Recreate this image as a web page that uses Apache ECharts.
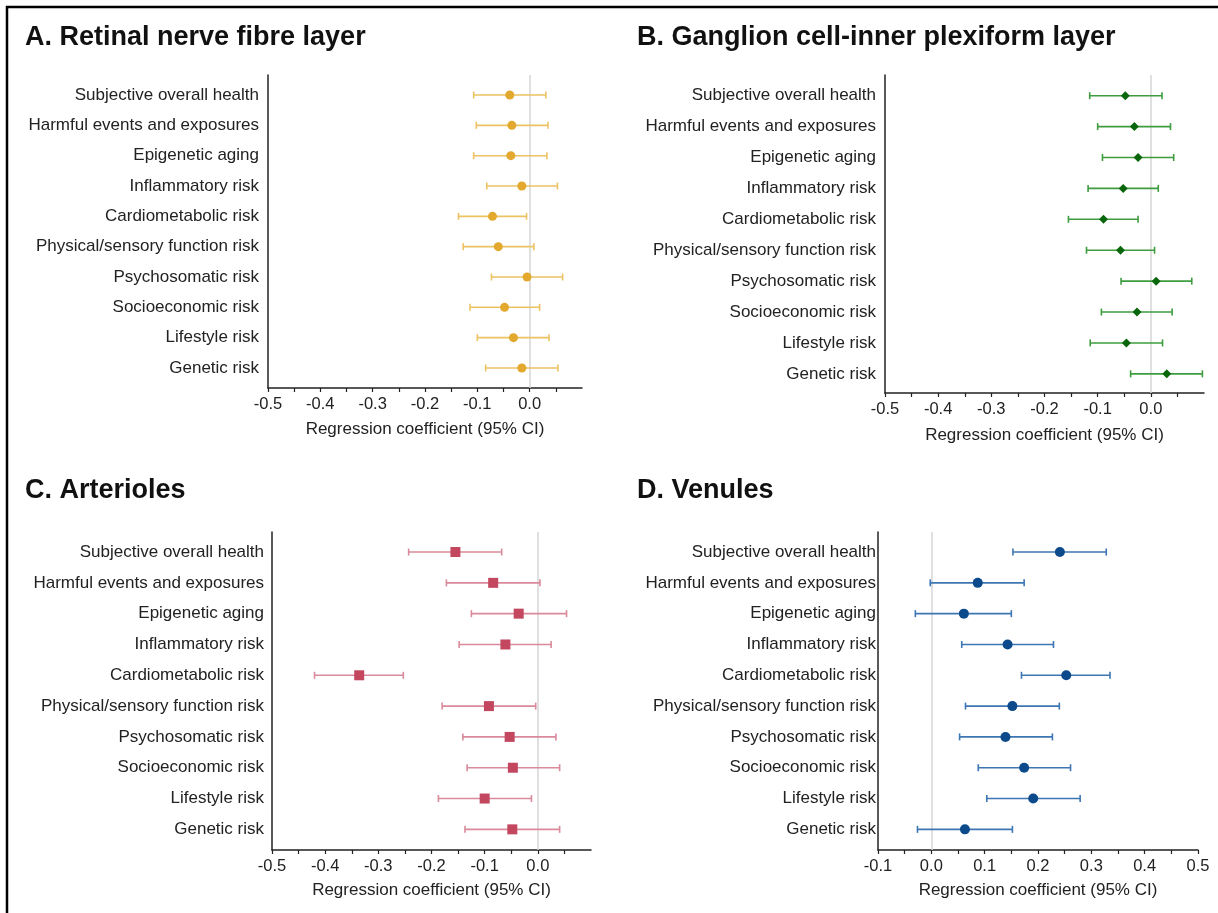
<!DOCTYPE html>
<html>
<head>
<meta charset="utf-8">
<script src="https://cdn.jsdelivr.net/npm/echarts@6/dist/echarts.min.js"></script>
<style>
html,body{margin:0;padding:0;background:#fff;}
#chart{width:1218px;height:913px;}
</style>
</head>
<body>
<div id="chart"></div>
<script>
// ---------- DATA ----------
const categories = ['Subjective overall health','Harmful events and exposures','Epigenetic aging','Inflammatory risk','Cardiometabolic risk','Physical/sensory function risk','Psychosomatic risk','Socioeconomic risk','Lifestyle risk','Genetic risk'];

const panelTitles = ['A. Retinal nerve fibre layer','B. Ganglion cell-inner plexiform layer','C. Arterioles','D. Venules'];
const axisTitle = 'Regression coefficient (95% CI)';

// A. RNFL
const rnflEst = [-0.038,-0.034,-0.036,-0.015,-0.071,-0.060,-0.005,-0.048,-0.031,-0.015];
const rnflLo  = [-0.107,-0.102,-0.107,-0.082,-0.136,-0.127,-0.073,-0.114,-0.100,-0.084];
const rnflHi  = [ 0.031, 0.035, 0.033, 0.053,-0.006, 0.008, 0.063, 0.019, 0.037, 0.054];
// B. GCIPL
const gciplEst = [-0.048,-0.031,-0.024,-0.052,-0.089,-0.057, 0.010,-0.026,-0.046, 0.030];
const gciplLo  = [-0.115,-0.100,-0.091,-0.118,-0.155,-0.121,-0.056,-0.093,-0.114,-0.038];
const gciplHi  = [ 0.021, 0.037, 0.043, 0.014,-0.024, 0.007, 0.077, 0.040, 0.022, 0.097];
// C. Arterioles
const artEst = [-0.155,-0.084,-0.036,-0.061,-0.336,-0.092,-0.053,-0.047,-0.100,-0.048];
const artLo  = [-0.243,-0.172,-0.125,-0.148,-0.420,-0.180,-0.141,-0.133,-0.187,-0.137];
const artHi  = [-0.068, 0.004, 0.054, 0.025,-0.253,-0.004, 0.034, 0.041,-0.012, 0.041];
// D. Venules
const venEst = [0.241,0.087,0.061,0.143,0.253,0.152,0.139,0.174,0.191,0.063];
const venLo  = [0.153,-0.002,-0.030,0.057,0.169,0.064,0.053,0.088,0.104,-0.026];
const venHi  = [0.328,0.174,0.150,0.229,0.335,0.240,0.227,0.261,0.279,0.152];

// tick values
const ticksNeg = [-0.5,-0.45,-0.4,-0.35,-0.3,-0.25,-0.2,-0.15,-0.1,-0.05,0,0.05];
const labelsNeg = [-0.5,-0.4,-0.3,-0.2,-0.1,0];
const ticksPos = [-0.1,-0.05,0,0.05,0.1,0.15,0.2,0.25,0.3,0.35,0.4,0.45,0.5];
const labelsPos = [-0.1,0,0.1,0.2,0.3,0.4,0.5];
const catIdx = [0,1,2,3,4,5,6,7,8,9];

// ---------- LAYOUT / STYLE ----------
const FONT = 'Liberation Sans, Arial, sans-serif';
const panels = [
  {est:rnflEst, lo:rnflLo, hi:rnflHi, grid:{left:268, top:75, width:314, height:313}, xmin:-0.5, xmax:0.1, ticks:ticksNeg, labels:labelsNeg, ymin:-0.66, ymax:9.66, line:'#ECC262', point:'#E3A82E', symbol:'circle', size:9, nameGap:33, yMargin:9},
  {est:gciplEst, lo:gciplLo, hi:gciplHi, grid:{left:885, top:75, width:319, height:318}, xmin:-0.5, xmax:0.1, ticks:ticksNeg, labels:labelsNeg, ymin:-0.67, ymax:9.62, line:'#3E9C3E', point:'#0A660A', symbol:'diamond', size:9, nameGap:34, yMargin:9},
  {est:artEst, lo:artLo, hi:artHi, grid:{left:272, top:532, width:319, height:318}, xmin:-0.5, xmax:0.1, ticks:ticksNeg, labels:labelsNeg, ymin:-0.65, ymax:9.67, line:'#DA8A9B', point:'#C2475F', symbol:'rect', size:10, nameGap:32, yMargin:8},
  {est:venEst, lo:venLo, hi:venHi, grid:{left:878, top:532, width:320, height:318}, xmin:-0.1, xmax:0.5, ticks:ticksPos, labels:labelsPos, ymin:-0.65, ymax:9.67, line:'#3C76B3', point:'#0C4A8B', symbol:'circle', size:10, nameGap:32, yMargin:2}
];
const titlePos = [{left:25, top:24},{left:637, top:24},{left:25, top:477},{left:637, top:477}];

const chart = echarts.init(document.getElementById('chart'), null, {renderer:'canvas'});

const grids = [], xAxes = [], yAxes = [], series = [], titles = [];
panels.forEach((p, i) => {
  grids.push(Object.assign({containLabel:false}, p.grid));
  titles.push({text: panelTitles[i], left: titlePos[i].left, top: titlePos[i].top, padding:0,
    textStyle:{fontFamily:FONT, fontSize:27, fontWeight:'bold', color:'#111'}});
  xAxes.push({
    type:'value', gridIndex:i, min:p.xmin, max:p.xmax,
    name: axisTitle, nameLocation:'middle', nameGap:p.nameGap,
    nameTextStyle:{fontFamily:FONT, fontSize:17, color:'#222'},
    axisLine:{show:true, onZero:false, lineStyle:{color:'#222', width:1.5}},
    axisTick:{show:true, length:4, customValues:p.ticks, lineStyle:{color:'#222', width:1.2}},
    axisLabel:{customValues:p.labels, fontFamily:FONT, fontSize:16.5, color:'#222', margin:8,
      formatter: v => v.toFixed(1)},
    splitLine:{show:false}
  });
  yAxes.push({
    type:'value', gridIndex:i, min:p.ymin, max:p.ymax, inverse:true,
    axisLine:{show:true, onZero:false, lineStyle:{color:'#222', width:1.5}},
    axisTick:{show:false},
    axisLabel:{customValues:catIdx, fontFamily:FONT, fontSize:17, color:'#222', margin:p.yMargin,
      formatter: v => categories[Math.round(v)]},
    splitLine:{show:false}
  });
  const barData = categories.map((c, k) => [p.lo[k], p.hi[k], k]);
  series.push({
    type:'custom', xAxisIndex:i, yAxisIndex:i, data: barData,
    encode:{x:[0,1], y:2},
    renderItem: (params, api) => {
      const a = api.coord([api.value(0), api.value(2)]);
      const b = api.coord([api.value(1), api.value(2)]);
      const h = 3.5;
      const st = {stroke:p.line, lineWidth:1.6};
      return {type:'group', children:[
        {type:'line', shape:{x1:a[0], y1:a[1], x2:b[0], y2:b[1]}, style:st},
        {type:'line', shape:{x1:a[0], y1:a[1]-h, x2:a[0], y2:a[1]+h}, style:st},
        {type:'line', shape:{x1:b[0], y1:b[1]-h, x2:b[0], y2:b[1]+h}, style:st}
      ]};
    },
    z:3, silent:true
  });
  series.push({
    type:'scatter', xAxisIndex:i, yAxisIndex:i,
    data: categories.map((c, k) => [p.est[k], k]),
    symbol:p.symbol, symbolSize:p.size,
    itemStyle:{color:p.point, opacity:1},
    z:4, silent:true,
    markLine:{silent:true, symbol:'none', label:{show:false},
      lineStyle:{color:'#d6d6d6', width:1.5, type:'solid'},
      data:[{xAxis:0}], z:1}
  });
});

chart.setOption({
  backgroundColor:'#ffffff',
  animation:false,
  title: titles,
  grid: grids,
  xAxis: xAxes,
  yAxis: yAxes,
  series: series,
  graphic:[
    {type:'line', shape:{x1:7, y1:6, x2:7, y2:913}, style:{stroke:'#000', lineWidth:2.5}, silent:true},
    {type:'line', shape:{x1:6, y1:7, x2:1218, y2:7}, style:{stroke:'#000', lineWidth:2.5}, silent:true}
  ]
});
</script>
</body>
</html>
